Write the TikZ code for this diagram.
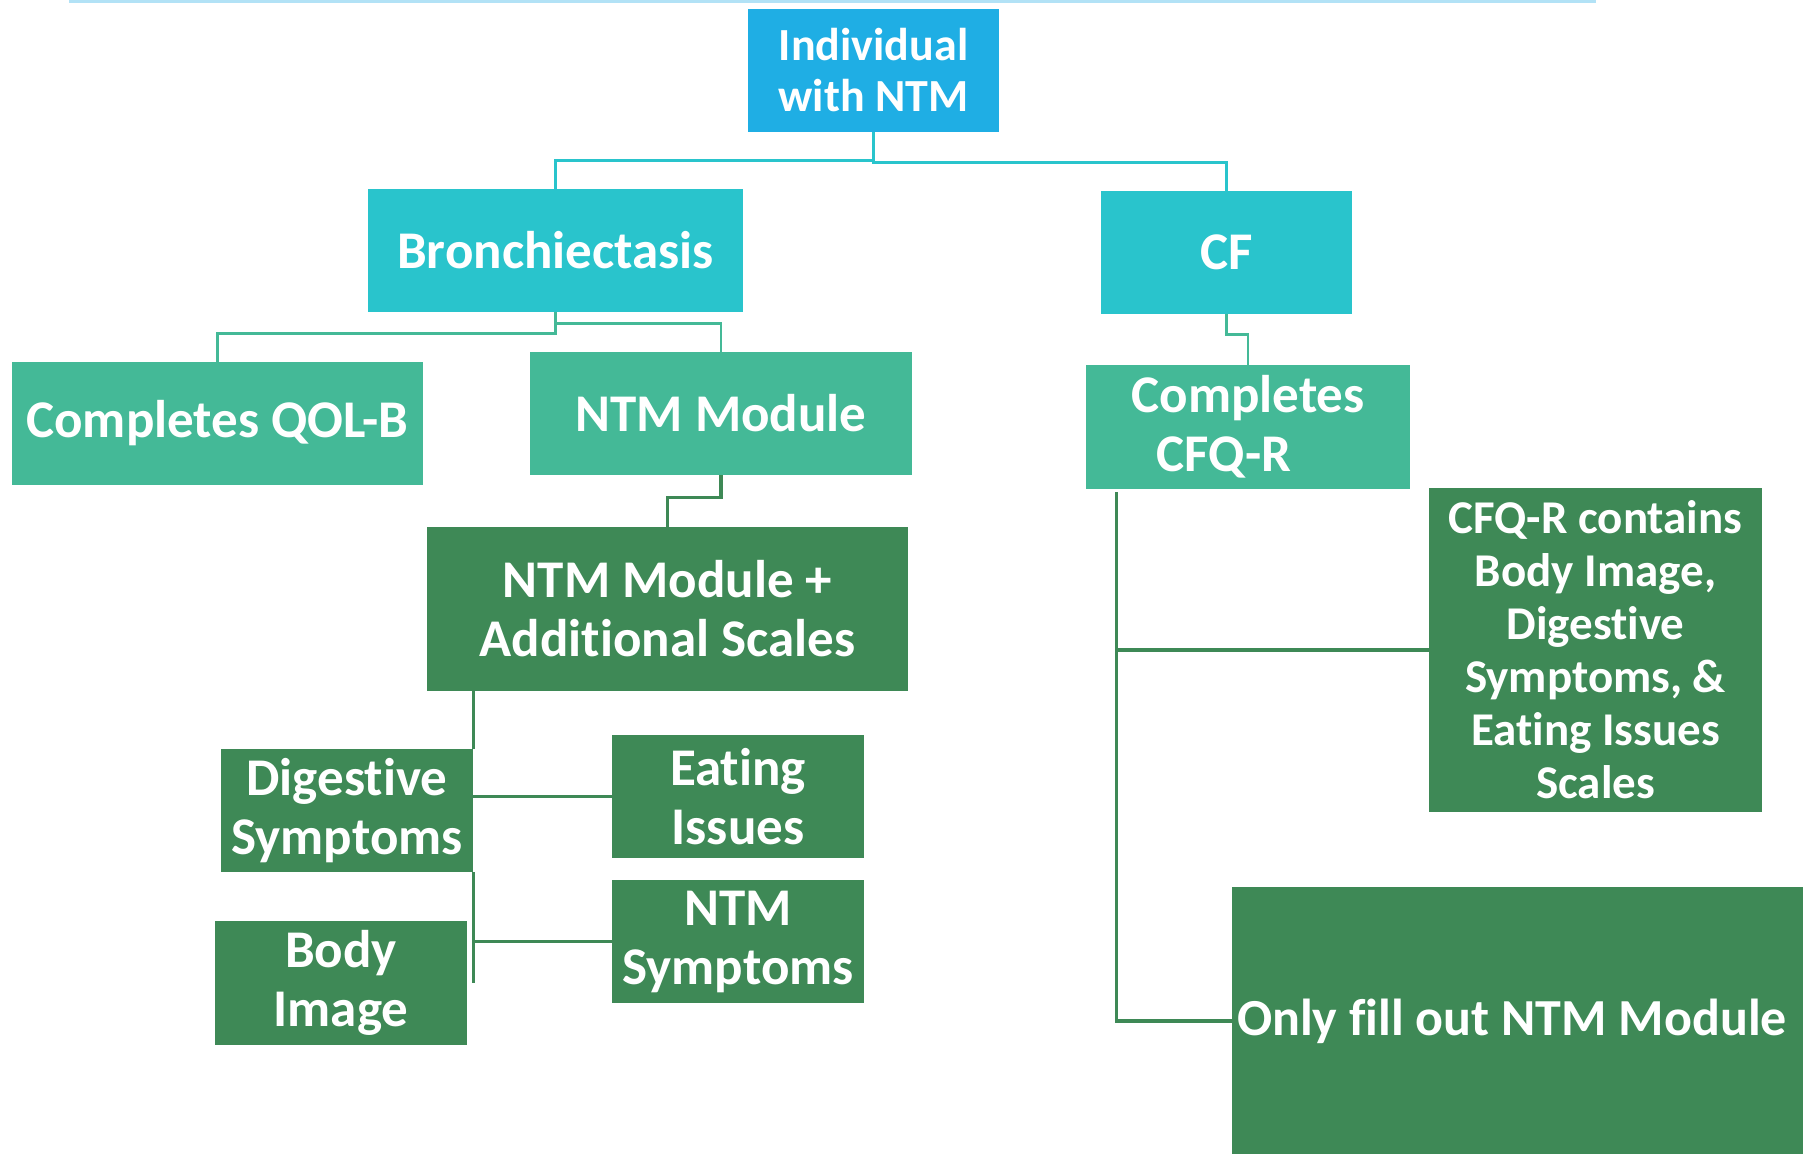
\documentclass[tikz,border=0pt]{standalone}
\usepackage{fontspec}
\setmainfont{Carlito}[Ligatures=NoCommon]
\usetikzlibrary{positioning}

\definecolor{skyblue}{RGB}{31,174,228}
\definecolor{cyanbox}{RGB}{41,196,204}
\definecolor{tealbox}{RGB}{68,185,151}
\definecolor{greenbox}{RGB}{62,137,86}
\definecolor{paleline}{RGB}{178,226,246}

\tikzset{
  box/.style={rectangle, inner sep=0pt, align=center, text=white,
    font=\bfseries\fontsize{26.5}{29.5}\selectfont},
  skybox/.style={box, fill=skyblue, font=\bfseries\fontsize{23}{25.5}\selectfont},
  cyanbx/.style={box, fill=cyanbox},
  tealbx/.style={box, fill=tealbox},
  greenbx/.style={box, fill=greenbox},
  cyanline/.style={draw=cyanbox, line width=1.3pt},
  tealline/.style={draw=tealbox, line width=1.3pt},
  greenline/.style={draw=greenbox, line width=1.6pt}
}

\begin{document}
\begin{tikzpicture}[x=0.5pt, y=-0.5pt]
    \useasboundingbox (0,0) rectangle (1803,1153);
    \draw[paleline, line width=1.5pt] (69,1.5) -- (1596,1.5);

    % Top levels
    \node[skybox, minimum width=125.5pt, minimum height=61.5pt] (ind) at (873.5,70.5) {Individual\\with NTM};
    \node[cyanbx, minimum width=187.5pt, minimum height=61.5pt] (bron) at (555.5,250.5) {Bronchiectasis};
    \node[cyanbx, minimum width=125.5pt, minimum height=61.5pt] (cf) at (1226.5,252.5) {CF};
    \node[tealbx, minimum width=205.5pt, minimum height=61.5pt] (qolb) at (217.5,423.5) {Completes QOL-B};
    \node[tealbx, minimum width=191pt, minimum height=61.5pt] (ntmmod) at (721,413.5) {NTM Module};
    \node[tealbx, minimum width=162pt, minimum height=62pt] (cfqr) at (1248,427) {Completes\\CFQ-R\hspace*{24pt}};

    % Scales
    \node[greenbx, minimum width=240.5pt, minimum height=82pt] (addsc) at (667.5,609) {NTM Module +\\Additional Scales};
    \node[greenbx, minimum width=126pt, minimum height=61.5pt] (dig) at (347,810.5) {Digestive\\Symptoms};
    \node[greenbx, minimum width=126pt, minimum height=61.5pt] (eat) at (738,796.5) {Eating\\Issues};
    \node[greenbx, minimum width=126pt, minimum height=62pt] (body) at (341,983) {Body\\Image};
    \node[greenbx, minimum width=126pt, minimum height=61.5pt] (ntmsym) at (738,941.5) {NTM\\Symptoms};
    \node[greenbx, minimum width=166.5pt, minimum height=162pt,
      font=\bfseries\fontsize{23.5}{26.5}\selectfont] (contains) at (1595.5,650)
      {CFQ-R contains\\Body Image,\\Digestive\\Symptoms, \&\\Eating Issues\\Scales};
    \node[greenbx, minimum width=299pt, minimum height=134pt, text width=294pt,
      align=flush left, inner xsep=2.5pt,
      font=\bfseries\fontsize{26}{29}\selectfont] (only) at (1531,1021) {Only fill out NTM Module};

    % Connectors
    \draw[cyanline] (ind.south) -- ++(0,28) -| (bron.north);
    \draw[cyanline] (ind.south) -- ++(0,30) -| (cf.north);
    \draw[tealline] (bron.south) -- ++(0,21) -| (qolb.north);
    \draw[tealline] (bron.south) -- ++(0,11) -| (ntmmod.north);
    \draw[tealline] (cf.south) -- ++(0,20) -| (cfqr.north);
    \draw[greenline] (ntmmod.south) -- ++(0,22) -| (addsc.north);
    \draw[greenline] (addsc.south -| dig.east) -- (dig.north east);
    \draw[greenline] (dig.east |- eat.west) -- (eat.west);
    \draw[greenline] (dig.south east) -- (dig.south east |- body.east);
    \draw[greenline] (dig.south east |- ntmsym.west) -- (ntmsym.west);
    \coordinate (cfqrleg) at (1116.5,492);
    \draw[greenline] (cfqrleg) |- (only.west);
    \draw[greenline] (cfqrleg |- contains.west) -- (contains.west);
\end{tikzpicture}
\end{document}
